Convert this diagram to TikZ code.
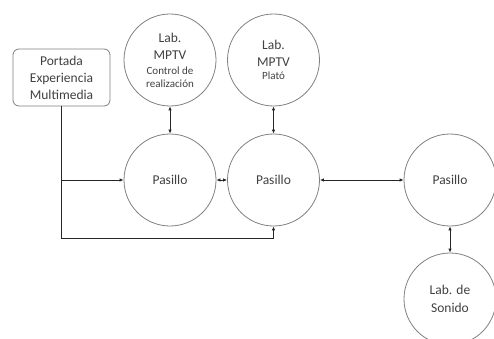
\documentclass[tikz,border=0pt]{standalone}
\usepackage{fontspec}
\setmainfont{Carlito}
\usetikzlibrary{arrows.meta}
\definecolor{txt}{HTML}{404040}
\definecolor{bord}{HTML}{808080}
\tikzset{
  room/.style={circle, draw=bord, line width=0.8pt, minimum size=92pt, inner sep=0pt,
    align=center, text=txt, font=\fontsize{13.5}{17.5}\selectfont},
  startbox/.style={rectangle, rounded corners=6pt, draw=bord, line width=0.8pt,
    minimum width=97pt, minimum height=57pt, inner sep=0pt, align=center, text=txt,
    font=\fontsize{13.5}{17}\selectfont},
  link/.style={line width=1pt, black!85},
  tip/.style={-{Latex[length=4pt,width=3.5pt]}},
  both/.style={{Latex[length=4pt,width=3.5pt]}-{Latex[length=4pt,width=3.5pt]}},
}
\newcommand{\smallfnt}{\fontsize{11}{12.5}\selectfont}
\begin{document}
\begin{tikzpicture}[x=1pt,y=-1pt]
\useasboundingbox (0,0) rectangle (494,339);
\clip (0,0) rectangle (494,339);
\node[startbox] (port) at (61.5,77.5) {Portada\\Experiencia\\Multimedia};
\node[room] (ctrl) at (170,60) {Lab.\\MPTV\\[-2.5pt]{\smallfnt Control de}\\[-5pt]{\smallfnt realización}};
\node[room] (plato) at (273.5,60) {Lab.\\MPTV\\[-4.5pt]{\smallfnt Plató}};
\node[room] (p1) at (170,180) {Pasillo};
\node[room] (p2) at (273.5,180) {Pasillo};
\node[room] (p3) at (450,180) {Pasillo};
\node[room] (son) at (450,299) {Lab. de\\Sonido};
\coordinate (jb) at (61.5,238);
\draw[link,tip] (port.south) -- (jb) -| (p2.south);
\draw[link,tip] (port.south |- p1.west) -- (p1.west);
\draw[link,both] (p1.east) -- (p2.west);
\draw[link,both] (p2.east) -- (p3.west);
\draw[link,both] (p1.north) -- (ctrl.south);
\draw[link,both] (p2.north) -- (plato.south);
\draw[link,both] (p3.south) -- (son.north);
\end{tikzpicture}
\end{document}
